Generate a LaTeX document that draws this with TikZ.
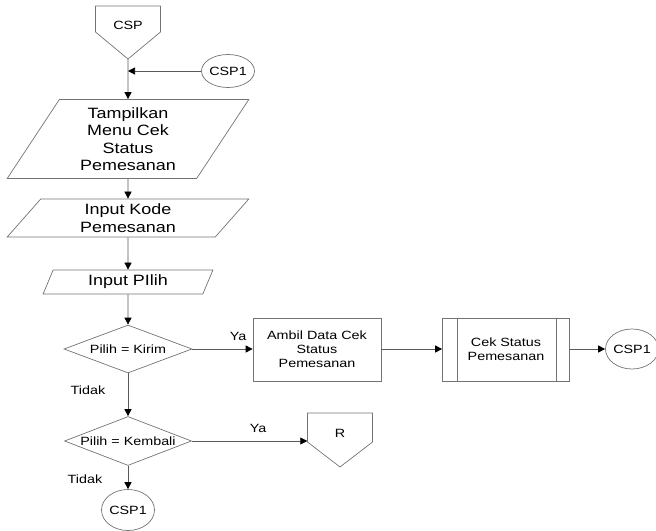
\documentclass[tikz,border=0pt]{standalone}
\usepackage{fontspec}
\setmainfont{Liberation Sans}[FakeStretch=1.2]
\usetikzlibrary{shapes.geometric, arrows.meta, calc, positioning}

\begin{document}
\begin{tikzpicture}[x=1bp, y=-1bp,
  shape line/.style={draw=black!55, line width=0.7bp},
  io/.style={shape line, trapezium, trapezium stretches=true, align=center, inner sep=0pt, font=\fontsize{15}{17.4}\selectfont},
  proc/.style={shape line, rectangle, align=center, minimum width=128bp, minimum height=63bp, font=\fontsize{12}{14}\selectfont},
  cond/.style={shape line, diamond, aspect=2.67, inner sep=0pt, font=\fontsize{12}{14}\selectfont},
  conn/.style={shape line, ellipse, inner sep=0pt, font=\fontsize{12}{14}\selectfont},
  flow/.style={draw=black!65, line width=0.7bp, -{Triangle[length=7bp, width=7bp, color=black]}},
  lbl/.style={font=\fontsize{12}{14}\selectfont}]
\useasboundingbox (0,0) rectangle (656,531);
% off-page start
\node[lbl, minimum width=65bp] (csp) at (128,25) {CSP};
\draw[shape line] ($(csp)+(-32.5,-19)$) -- ++(65,0) -- ++(0,26) -- ++(-32.5,27) -- ++(-32.5,-27) -- cycle;
\coordinate (csp tip) at ($(csp)+(0,34)$);
\node[conn, minimum width=53bp, minimum height=33bp] (csp1a) at (228,71) {CSP1};
% input / output
\node[io, trapezium left angle=60, trapezium right angle=120, minimum width=242bp, minimum height=79bp] (menu) at (128,139) {Tampilkan\\Menu Cek\\Status\\Pemesanan};
\node[io, trapezium left angle=57, trapezium right angle=123, minimum width=242bp, minimum height=38bp] (kode) at (128,218) {Input Kode\\Pemesanan};
\node[io, trapezium left angle=69, trapezium right angle=111, minimum width=170bp, minimum height=24bp] (pilih) at (128,282) {Input PIlih};
% decisions
\node[cond, minimum width=128bp, minimum height=48bp] (kirim) at (128,349) {Pilih = Kirim};
\node[cond, minimum width=127bp, minimum height=49bp] (kembali) at (128,441) {Pilih = Kembali};
% processes
\node[proc] (ambil) at (317,349.5) {Ambil Data Cek\\Status\\Pemesanan};
\node[proc, minimum width=127bp] (cek) at (506,349.5) {Cek Status\\Pemesanan};
\draw[shape line] ($(cek.north west)+(15,0)$) -- ($(cek.south west)+(15,0)$)
  ($(cek.north east)+(-14,0)$) -- ($(cek.south east)+(-14,0)$);
\node[conn, minimum width=46bp, minimum height=40bp] (csp1b) at (632,349) {CSP1};
% off-page return
\node[lbl, minimum width=65bp] (r) at (340,433) {R};
\draw[shape line] ($(r)+(-32.5,-20)$) -- ++(65,0) -- ++(0,29) -- ++(-32.5,25) -- ++(-32.5,-25) -- cycle;
\node[conn, minimum width=52bp, minimum height=41bp] (csp1c) at (128,510) {CSP1};
% labels
\node[lbl] (ya1) at (238,336) {Ya};
\node[lbl] (tidak1) at (88,390) {Tidak};
\node[lbl] (ya2) at (258,428) {Ya};
\node[lbl] (tidak2) at (85,479) {Tidak};
% flow
\coordinate (merge) at (csp tip |- csp1a.west);
\draw[flow] (csp tip) -- (menu.north);
\draw[flow] (csp1a.west) -- (merge);
\draw[flow] (menu.south) -- (kode.north);
\draw[flow] (kode.south) -- (pilih.north);
\draw[flow] (pilih.south) -- (kirim.north);
\draw[flow] (kirim.east) -- (ambil.west |- kirim.east);
\draw[flow] (ambil.east |- kirim.east) -- (cek.west |- kirim.east);
\draw[flow] (cek.east |- kirim.east) -- (csp1b.west);
\draw[flow] (kirim.south) -- (kembali.north);
\draw[flow] (kembali.east) -- (kembali.east -| r.west);
\draw[flow] (kembali.south) -- (csp1c.north);
\end{tikzpicture}
\end{document}
